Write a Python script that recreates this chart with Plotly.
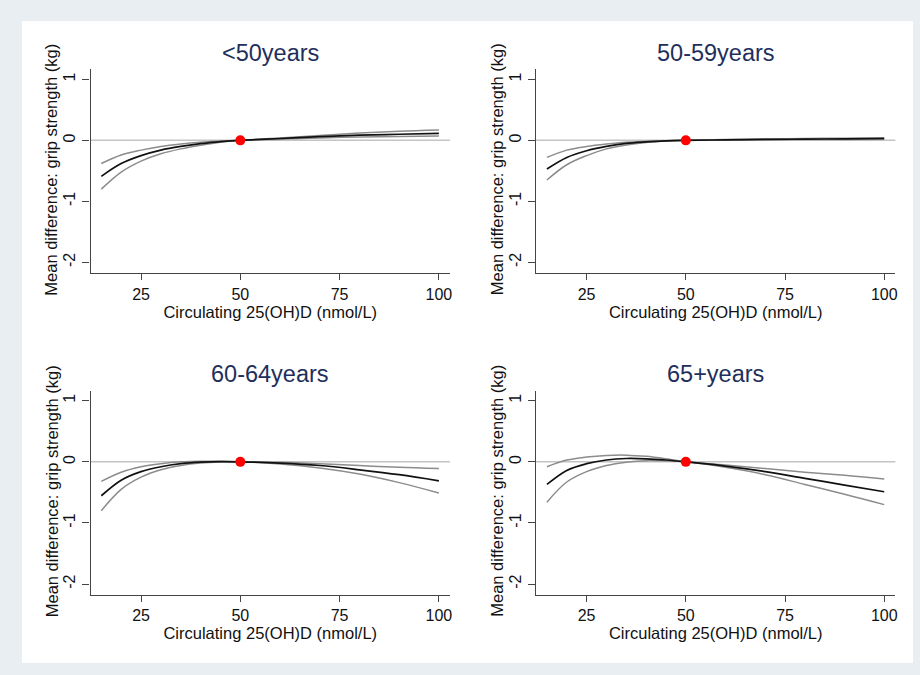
import plotly.graph_objects as go

# ---------------- data ----------------
vitd = [15, 20, 25, 30, 35, 40, 45, 50, 60, 70, 80, 90, 100]

panel_titles = ["<50years", "50-59years", "60-64years", "65+years"]

est_lt50 = [-0.59, -0.38, -0.25, -0.16, -0.10, -0.055, -0.02, 0, 0.03, 0.06, 0.085, 0.10, 0.115]
upp_lt50 = [-0.38, -0.24, -0.16, -0.10, -0.06, -0.03, -0.01, 0, 0.04, 0.08, 0.12, 0.15, 0.17]
low_lt50 = [-0.80, -0.52, -0.34, -0.22, -0.14, -0.08, -0.03, 0, 0.02, 0.04, 0.055, 0.065, 0.07]

est_5059 = [-0.47, -0.28, -0.17, -0.10, -0.05, -0.025, -0.008, 0, 0.008, 0.015, 0.02, 0.025, 0.03]
upp_5059 = [-0.28, -0.16, -0.10, -0.06, -0.03, -0.015, -0.005, 0, 0.012, 0.022, 0.03, 0.036, 0.042]
low_5059 = [-0.65, -0.40, -0.25, -0.14, -0.075, -0.035, -0.012, 0, 0.004, 0.008, 0.012, 0.015, 0.02]

est_6064 = [-0.555, -0.30, -0.16, -0.08, -0.03, -0.005, 0.003, 0, -0.02, -0.06, -0.13, -0.21, -0.31]
upp_6064 = [-0.32, -0.17, -0.08, -0.03, 0.0, 0.01, 0.008, 0, -0.008, -0.03, -0.06, -0.09, -0.11]
low_6064 = [-0.80, -0.45, -0.25, -0.13, -0.06, -0.02, -0.003, 0, -0.035, -0.10, -0.20, -0.34, -0.51]

est_65p = [-0.37, -0.14, -0.03, 0.03, 0.055, 0.05, 0.03, 0, -0.07, -0.16, -0.27, -0.38, -0.49]
upp_65p = [-0.08, 0.03, 0.08, 0.105, 0.11, 0.09, 0.05, 0, -0.05, -0.11, -0.17, -0.22, -0.28]
low_65p = [-0.66, -0.33, -0.16, -0.06, -0.005, 0.02, 0.015, 0, -0.09, -0.21, -0.37, -0.53, -0.70]

ref_x = [50]
ref_y = [0]

x_ticks = [25, 50, 75, 100]
x_ticklabels = ["25", "50", "75", "100"]
y_ticks = [-2, -1, 0, 1]
y_ticklabels = ["-2", "-1", "0", "1"]

x_title = "Circulating 25(OH)D (nmol/L)"
y_title = "Mean difference: grip strength (kg)"

panels = [
    (est_lt50, upp_lt50, low_lt50),
    (est_5059, upp_5059, low_5059),
    (est_6064, upp_6064, low_6064),
    (est_65p, upp_65p, low_65p),
]

# ---------------- layout geometry ----------------
W, H = 920, 675
x_doms = [[90.7 / W, 451 / W], [537.3 / W, 897.3 / W]]
y_doms = [[1 - 273.3 / H, 1 - 69.3 / H], [1 - 595 / H, 1 - 390.7 / H]]
title_y = [1 - 53 / H, 1 - 374 / H]
ytitle_x = [51.5 / W, 498 / W]

FONT = "Liberation Sans, Arial, sans-serif"
AXIS_COLOR = "#444444"
TXT = "#111111"

fig = go.Figure()
layout = dict(
    width=W, height=H,
    margin=dict(l=0, r=0, t=0, b=0),
    paper_bgcolor="#e8eef1",
    plot_bgcolor="white",
    showlegend=False,
    font=dict(family=FONT, color=TXT),
    shapes=[dict(type="rect", xref="paper", yref="paper",
                 x0=22 / W, x1=915 / W, y0=1 - 663 / H, y1=1 - 21 / H,
                 fillcolor="white", line=dict(width=0), layer="below")],
    annotations=[],
)

for i, (est, upp, low) in enumerate(panels):
    r, c = divmod(i, 2)
    n = "" if i == 0 else str(i + 1)
    xa, ya = "x" + n, "y" + n
    for vals, col, w in [(upp, "#8c8c8c", 1.5), (low, "#8c8c8c", 1.5), (est, "#111111", 1.7)]:
        fig.add_trace(go.Scatter(x=vitd, y=vals, mode="lines", xaxis=xa, yaxis=ya,
                                 line=dict(color=col, width=w, shape="spline", smoothing=1.0),
                                 hoverinfo="skip"))
    fig.add_trace(go.Scatter(x=ref_x, y=ref_y, mode="markers", xaxis=xa, yaxis=ya,
                             marker=dict(color="#ff0000", size=10, line=dict(width=0))))
    layout["xaxis" + n] = dict(
        domain=x_doms[c], range=[12.28, 102.8], anchor=ya,
        tickvals=x_ticks, ticktext=x_ticklabels,
        ticks="outside", ticklen=6, tickwidth=1.2, tickcolor=AXIS_COLOR,
        showline=True, linecolor=AXIS_COLOR, linewidth=1.3, showgrid=False, zeroline=False,
        tickfont=dict(size=16, family=FONT, color=TXT),
        title=dict(text=x_title, font=dict(size=16.5, family=FONT, color=TXT), standoff=1),
    )
    layout["yaxis" + n] = dict(
        domain=y_doms[r], range=[-2.18, 1.165], anchor=xa,
        tickvals=y_ticks, ticktext=y_ticklabels,
        ticks="outside", ticklen=7, tickwidth=1.2, tickcolor=AXIS_COLOR,
        tickangle=-90, ticklabelstandoff=1,
        showline=True, linecolor=AXIS_COLOR, linewidth=1.3, showgrid=False, zeroline=False,
        tickfont=dict(size=16, family=FONT, color=TXT),
    )
    layout["shapes"].append(dict(type="line", xref=xa + " domain", yref=ya,
                                 x0=0, x1=1, y0=0, y1=0,
                                 line=dict(color="#c4c4c4", width=1.5), layer="below"))
    layout["annotations"].append(dict(text=panel_titles[i], xref="paper", yref="paper",
                                      x=sum(x_doms[c]) / 2, y=title_y[r],
                                      xanchor="center", yanchor="middle", showarrow=False,
                                      font=dict(size=23.5, family=FONT, color="#1f2f5c")))
    layout["annotations"].append(dict(text=y_title, xref="paper", yref="paper",
                                      x=ytitle_x[c], y=sum(y_doms[r]) / 2 + 2 / H,
                                      xanchor="center", yanchor="middle", showarrow=False,
                                      textangle=-90,
                                      font=dict(size=16.5, family=FONT, color=TXT)))

fig.update_layout(**layout)
fig.write_html("out.html", config={"displayModeBar": False},
               post_script="document.body.style.margin='0';document.body.style.padding='0';")
